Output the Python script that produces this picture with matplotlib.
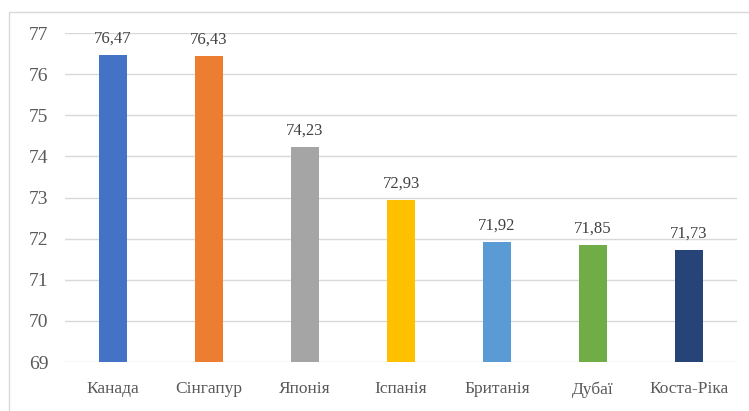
import matplotlib
matplotlib.use("Agg")
import matplotlib.pyplot as plt
from matplotlib.patches import Rectangle

categories = ["Канада", "Сінгапур", "Японія", "Іспанія", "Британія", "Дубаї", "Коста-Ріка"]
values = [76.47, 76.43, 74.23, 72.93, 71.92, 71.85, 71.73]
labels = ["76,47", "76,43", "74,23", "72,93", "71,92", "71,85", "71,73"]
colors = ["#4472C4", "#ED7D31", "#A5A5A5", "#FFC000", "#5B9BD5", "#70AD47", "#264478"]
yticks = [69, 70, 71, 72, 73, 74, 75, 76, 77]

plt.rcParams['font.family'] = ['Liberation Serif', 'DejaVu Serif']

W, H = 749, 411
fig = plt.figure(figsize=(W/100, H/100), dpi=100)
fig.patches.append(Rectangle((9/W, -0.1), 1.2, 1 - 12/H + 0.1, transform=fig.transFigure,
                             fill=False, edgecolor="#D9D9D9", linewidth=1.0))
ax = fig.add_axes([65/W, 1 - 362/H, (737-65)/W, (362-33)/H])

x = range(len(categories))
ax.bar(x, values, width=0.3, color=colors, bottom=0, zorder=3)
ax.set_ylim(69, 77)
ax.set_xlim(-0.5, len(categories) - 0.5)
ax.set_yticks(yticks)
ax.set_yticklabels([str(t) for t in yticks])
ax.set_xticks(list(x))
ax.set_xticklabels(categories)
ax.grid(axis='y', color="#D9D9D9", linewidth=1.0, zorder=0)
for s in ax.spines.values():
    s.set_visible(False)
ax.tick_params(axis='both', length=0, colors="#595959")
ax.tick_params(axis='y', pad=12, labelsize=14)
ax.tick_params(axis='x', pad=14, labelsize=12.5)
for xi, v, lab in zip(x, values, labels):
    ax.annotate(lab, (xi, v), xytext=(0, 6), textcoords='offset points',
                ha='center', va='bottom', fontsize=12, color="#404040")

fig.savefig("out.png", dpi=100)
